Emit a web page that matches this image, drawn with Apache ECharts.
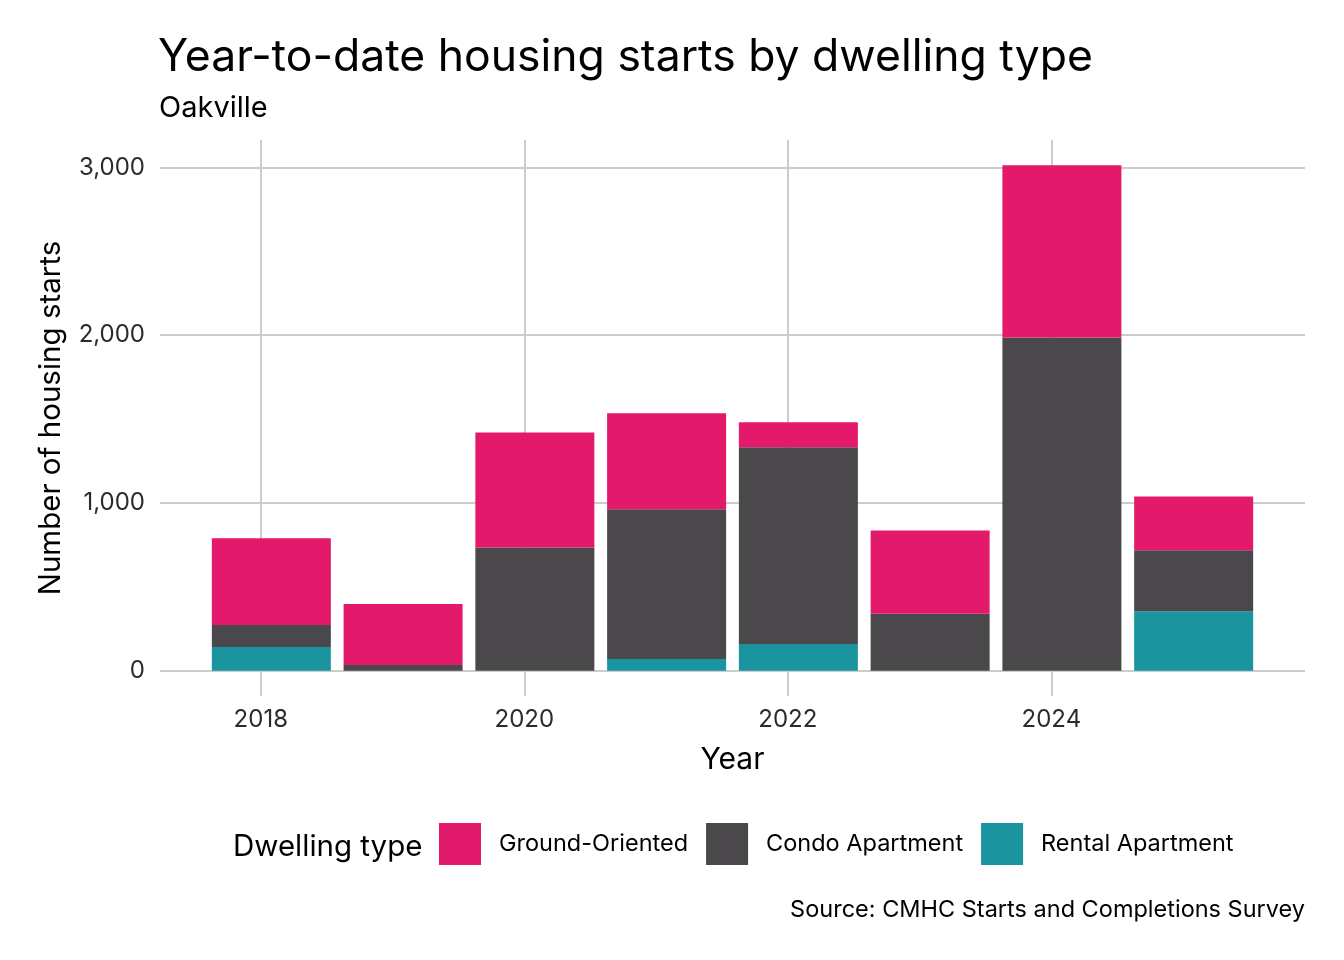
<!DOCTYPE html>
<html>
<head>
<meta charset="utf-8">
<script src="https://cdn.jsdelivr.net/npm/echarts@6/dist/echarts.min.js"></script>
<style>
html,body{margin:0;padding:0;background:#fff;}
#chart{width:1344px;height:960px;}
</style>
</head>
<body>
<div id="chart"></div>
<script>
// Data
const years = [2018, 2019, 2020, 2021, 2022, 2023, 2024, 2025];
const groundOriented = [518, 363, 685, 572, 149, 496, 1026, 320];
const condoApartment = [131, 34, 735, 892, 1172, 339, 1986, 364];
const rentalApartment = [141, 0, 0, 70, 159, 0, 0, 354];
const xTicks = [2018, 2020, 2022, 2024];
const yTicks = [0, 1000, 2000, 3000];
const seriesNames = ['Ground-Oriented', 'Condo Apartment', 'Rental Apartment'];
const colors = {
  'Ground-Oriented': '#E31A6B',
  'Condo Apartment': '#4A484B',
  'Rental Apartment': '#1A959F'
};

// Year-to-date observations sit about a month into each year
const yearOffset = 0.08;
// value first (stacked dimension), year second
const toPoints = arr => arr.map((v, i) => [v, years[i] + yearOffset]);

const FONT = 'Inter';
const chart = echarts.init(document.getElementById('chart'), null, {renderer: 'canvas'});

function makeSeries(name, arr) {
  return {
    name: name,
    type: 'bar',
    stack: 'total',
    barWidth: 119,
    data: toPoints(arr),
    encode: {x: 1, y: 0},
    itemStyle: {color: colors[name]},
    emphasis: {disabled: true},
    animation: false
  };
}

const option = {
  backgroundColor: '#ffffff',
  animation: false,
  textStyle: {fontFamily: FONT},
  title: [
    {
      text: 'Year-to-date housing starts by dwelling type',
      left: 153, top: 30,
      textStyle: {fontFamily: FONT, fontSize: 44.5, fontWeight: 'normal', color: '#000'}
    },
    {
      text: 'Oakville',
      left: 154, top: 89,
      textStyle: {fontFamily: FONT, fontSize: 29, fontWeight: 'normal', color: '#000'}
    },
    {
      text: 'Dwelling type',
      left: 228, top: 827,
      textStyle: {fontFamily: FONT, fontSize: 29.5, fontWeight: 'normal', color: '#000'}
    },
    {
      text: 'Source: CMHC Starts and Completions Survey',
      right: 34, top: 893,
      textStyle: {fontFamily: FONT, fontSize: 23.5, fontWeight: 'normal', color: '#000'}
    }
  ],
  legend: {
    data: seriesNames,
    left: 434, top: 818,
    orient: 'horizontal',
    itemWidth: 42, itemHeight: 42,
    itemGap: 18,
    icon: 'rect',
    selectedMode: false,
    textStyle: {fontFamily: FONT, fontSize: 23.5, color: '#000', padding: [4, 0, 0, 13]}
  },
  grid: {left: 160, right: 39, top: 140, bottom: 264, containLabel: false},
  xAxis: {
    type: 'value',
    min: 2017.235,
    max: 2025.925,
    name: 'Year',
    nameLocation: 'middle',
    nameGap: 49,
    nameTextStyle: {fontFamily: FONT, fontSize: 30, color: '#000'},
    axisLine: {show: false},
    axisTick: {show: false, customValues: xTicks},
    axisLabel: {
      customValues: xTicks,
      margin: 12,
      fontFamily: FONT, fontSize: 24, color: '#2b2b2b',
      formatter: v => String(Math.round(v))
    },
    splitLine: {show: true, lineStyle: {color: '#CCCCCC', width: 2}}
  },
  yAxis: {
    type: 'value',
    min: -150.6,
    max: 3162.6,
    name: 'Number of housing starts',
    nameLocation: 'middle',
    nameGap: 94,
    nameRotate: 90,
    nameTextStyle: {fontFamily: FONT, fontSize: 29.5, color: '#000'},
    axisLine: {show: false},
    axisTick: {show: false, customValues: yTicks},
    axisLabel: {
      customValues: yTicks,
      margin: 15,
      fontFamily: FONT, fontSize: 24, color: '#2b2b2b',
      formatter: v => Math.round(v).toLocaleString('en-US')
    },
    splitLine: {show: true, lineStyle: {color: '#CCCCCC', width: 2}}
  },
  series: [
    makeSeries('Rental Apartment', rentalApartment),
    makeSeries('Condo Apartment', condoApartment),
    makeSeries('Ground-Oriented', groundOriented)
  ]
};
chart.setOption(option);
</script>
</body>
</html>
